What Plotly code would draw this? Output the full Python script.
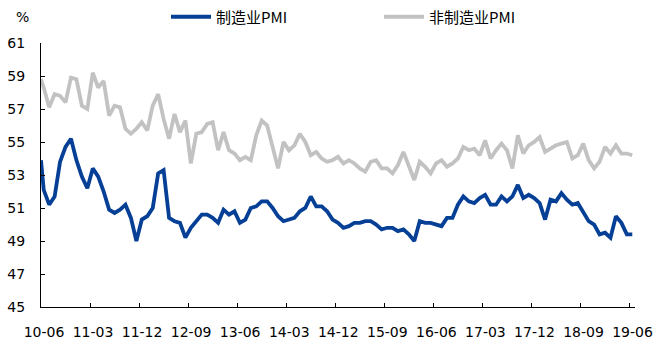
import numpy as np
import plotly.graph_objects as go

# Month labels 2010-06 .. 2019-06
months = []
for y in range(2010, 2020):
    for m in range(1, 13):
        if (y == 2010 and m < 6) or (y == 2019 and m > 6):
            continue
        months.append(f"{y % 100:02d}-{m:02d}")

# Lead-in value for 10-05 (drawn at the axis start)
mfg_lead = 53.9
nonmfg_lead = 58.8

mfg = [
    52.1, 51.2, 51.7, 53.8, 54.7, 55.2, 53.9,                          # 2010-06..12
    52.9, 52.2, 53.4, 52.9, 52.0, 50.9, 50.7, 50.9, 51.2, 50.4, 49.0, 50.3,  # 2011
    50.5, 51.0, 53.1, 53.3, 50.4, 50.2, 50.1, 49.2, 49.8, 50.2, 50.6, 50.6,  # 2012
    50.4, 50.1, 50.9, 50.6, 50.8, 50.1, 50.3, 51.0, 51.1, 51.4, 51.4, 51.0,  # 2013
    50.5, 50.2, 50.3, 50.4, 50.8, 51.0, 51.7, 51.1, 51.1, 50.8, 50.3, 50.1,  # 2014
    49.8, 49.9, 50.1, 50.1, 50.2, 50.2, 50.0, 49.7, 49.8, 49.8, 49.6, 49.7,  # 2015
    49.4, 49.0, 50.2, 50.1, 50.1, 50.0, 49.9, 50.4, 50.4, 51.2, 51.7, 51.4,  # 2016
    51.3, 51.6, 51.8, 51.2, 51.2, 51.7, 51.4, 51.7, 52.4, 51.6, 51.8, 51.6,  # 2017
    51.3, 50.3, 51.5, 51.4, 51.9, 51.5, 51.2, 51.3, 50.8, 50.2, 50.0, 49.4,  # 2018
    49.5, 49.2, 50.5, 50.1, 49.4, 49.4,                                # 2019-01..06
]

nonmfg = [
    58.3, 57.1, 57.9, 57.8, 57.4, 58.9, 58.8,                          # 2010-06..12
    57.2, 57.0, 59.2, 58.3, 58.7, 56.6, 57.2, 57.1, 55.8, 55.5, 55.8, 56.2,  # 2011
    55.7, 57.2, 57.9, 56.4, 55.2, 56.7, 55.6, 56.3, 53.7, 55.5, 55.6, 56.1,  # 2012
    56.2, 54.5, 55.6, 54.5, 54.3, 53.9, 54.1, 53.9, 55.4, 56.3, 56.0, 54.6,  # 2013
    53.4, 55.0, 54.5, 54.8, 55.5, 55.0, 54.2, 54.4, 54.0, 53.8, 53.9, 54.1,  # 2014
    53.7, 53.9, 53.7, 53.4, 53.2, 53.8, 53.9, 53.4, 53.4, 53.1, 53.6, 54.4,  # 2015
    53.5, 52.7, 53.8, 53.5, 53.1, 53.7, 53.9, 53.5, 53.7, 54.0, 54.7, 54.5,  # 2016
    54.6, 54.2, 55.1, 54.0, 54.5, 54.9, 54.5, 53.4, 55.4, 54.3, 54.8, 55.0,  # 2017
    55.3, 54.4, 54.6, 54.8, 54.9, 55.0, 54.0, 54.2, 54.9, 53.9, 53.4, 53.8,  # 2018
    54.7, 54.3, 54.8, 54.3, 54.3, 54.2,                                # 2019-01..06
]

y_ticks = [45, 47, 49, 51, 53, 55, 57, 59, 61]
label_step = 9

n = len(months)
x_range = [-0.5, n - 0.5]
idx = np.arange(n)
x_all = np.concatenate([[x_range[0]], idx])

tickvals = [i - 0.5 for i in range(0, n, label_step)]
ticktext = [months[i] for i in range(0, n, label_step)]

BLUE = "#063f96"
GREY = "#c2c2c2"
tick_font = dict(family="DejaVu Sans, Verdana, sans-serif", size=14, color="#000000")

W, H = 656, 343
ML, MR, MT, MB = 41, 21, 43, 36

fig = go.Figure()
fig.add_trace(go.Scatter(
    x=x_all, y=[mfg_lead] + mfg, mode="lines", name="制造业PMI",
    line=dict(color=BLUE, width=3.8),
))
fig.add_trace(go.Scatter(
    x=x_all, y=[nonmfg_lead] + nonmfg, mode="lines", name="非制造业PMI",
    line=dict(color=GREY, width=3.8),
))

fig.update_layout(
    width=W, height=H,
    margin=dict(l=ML, r=MR, t=MT, b=MB, autoexpand=False),
    paper_bgcolor="white", plot_bgcolor="white",
    showlegend=True,
    legend=dict(
        orientation="h", x=166 / W, xanchor="left", y=1 - 17 / H, yanchor="middle",
        xref="container", yref="container",
        font=dict(family="Noto Sans CJK SC, sans-serif", size=15, color="#000000"),
        entrywidth=158, entrywidthmode="pixels",
        bgcolor="rgba(0,0,0,0)", itemwidth=40,
    ),
    annotations=[dict(
        text="%", xref="paper", yref="paper",
        x=(22 - ML) / (W - ML - MR), y=1 + (MT - 17) / (H - MT - MB),
        xanchor="center", yanchor="middle", showarrow=False,
        font=tick_font,
    )],
)

fig.update_xaxes(
    range=x_range, tickmode="array", tickvals=tickvals, ticktext=ticktext,
    ticks="inside", ticklen=4, tickcolor="#000000", tickwidth=1,
    showline=True, linecolor="#000000", linewidth=1.2,
    showgrid=False, zeroline=False, tickfont=tick_font,
    ticklabelshift=3, ticklabelstandoff=12, automargin=False,
)
fig.update_yaxes(
    range=[y_ticks[0], y_ticks[-1]], tickmode="array", tickvals=y_ticks,
    ticks="inside", ticklen=4, tickcolor="#000000", tickwidth=1,
    showline=True, linecolor="#000000", linewidth=1.2,
    showgrid=False, zeroline=False, tickfont=tick_font,
    ticklabelstandoff=12, automargin=False,
)

fig.write_html("out.html")
